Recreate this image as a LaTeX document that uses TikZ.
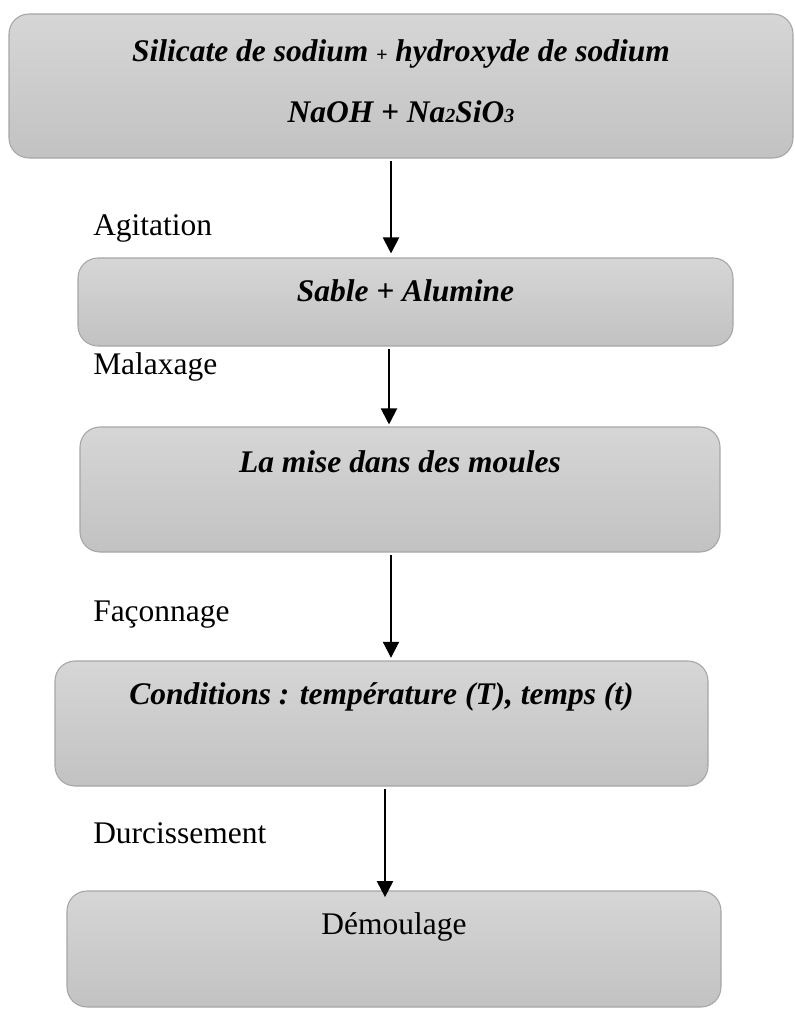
\documentclass[tikz,border=0pt]{standalone}
\usepackage{fontspec}
\setmainfont{Liberation Serif}
\usepackage{tikz}
\usetikzlibrary{arrows.meta,positioning,calc}

\definecolor{boxtop}{HTML}{D6D6D6}
\definecolor{boxbot}{HTML}{C2C2C2}
\definecolor{boxline}{HTML}{A6A6A6}

\tikzset{
  stepbox/.style={draw=boxline, line width=0.8pt, rounded corners=15pt,
    top color=boxtop, bottom color=boxbot, inner sep=0pt},
  boxtext/.style={font=\fontsize{23.6}{28}\selectfont\bfseries\itshape, anchor=base, inner sep=0pt},
  stage/.style={font=\fontsize{23.6}{28}\selectfont, anchor=base west, inner sep=0pt},
  flow/.style={line width=1.5pt, -{Triangle[width=12pt,length=12pt]}}
}

\begin{document}
\begin{tikzpicture}[x=0.75pt,y=-0.75pt]
\useasboundingbox (0,0) rectangle (795,1009);

% boxes
\node[stepbox, minimum width=588pt, minimum height=108pt] (b1) at (401,86) {};
\node[stepbox, minimum width=491.25pt, minimum height=66pt] (b2) at (405.5,302) {};
\node[stepbox, minimum width=480pt, minimum height=93.75pt] (b3) at (400,489.5) {};
\node[stepbox, minimum width=489.75pt, minimum height=93.75pt] (b4) at (381.5,723.5) {};
\node[stepbox, minimum width=490.5pt, minimum height=87pt] (b5) at (394,949) {};

% texts
\node[boxtext] (t1) at ($(b1.north)+(0,48)$) {Silicate de sodium {\fontsize{15}{15}\selectfont +} hydroxyde de sodium};
\node[boxtext] (t1b) at ($(b1.north)+(0,109)$) {NaOH + Na{\fontsize{15}{15}\selectfont 2}SiO{\fontsize{15}{15}\selectfont 3}};
\node[boxtext] (t2) at ($(b2.north)+(0,44)$) {Sable + Alumine};
\node[boxtext] (t3) at ($(b3.north)+(0,46)$) {La mise dans des moules};
\node[boxtext] (t4) at ($(b4.north)+(0,44)$) {Conditions : température (T), temps (t)};
\node[boxtext, font=\fontsize{23.6}{28}\selectfont] (t5) at ($(b5.north)+(0,44)$) {Démoulage};

% arrows
\foreach \a/\b/\x/\s in {b1/b2/391/3pt, b2/b3/389/1.5pt, b3/b4/391/2pt, b4/b5/385/-5pt} {
  \draw[flow, shorten <=2pt, shorten >=\s] (\a.south -| \x,0) -- (\b.north -| \x,0);
}

\foreach \y/\txt in {236/Agitation, 374/Malaxage, 621/Façonnage, 843/Durcissement} {
  \node[stage] (lab\y) at (93,\y) {\txt};
}
\end{tikzpicture}
\end{document}
